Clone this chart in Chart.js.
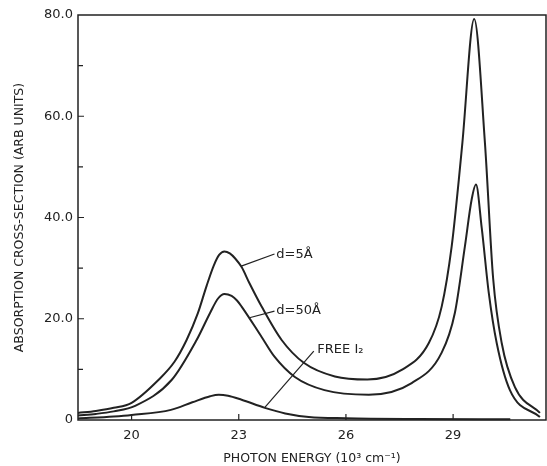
<!DOCTYPE html>
<html>
<head>
<meta charset="utf-8">
<script src="https://cdn.jsdelivr.net/npm/chart.js@4.4.1/dist/chart.umd.min.js"></script>
<style>
  html, body { margin: 0; padding: 0; background: #fff; }
  #wrap { width: 547px; height: 466px; }
</style>
</head>
<body>
<div id="wrap"><canvas id="c"></canvas></div>
<script>
// Values
const xTicks = [20, 23, 26, 29];
const yTicks = [0, 10, 20, 30, 40, 50, 60, 70, 80];

const d5X = [18.5, 19.0, 19.5, 20.0, 20.75, 21.2, 21.54, 21.85, 22.1, 22.3, 22.45, 22.6, 22.75, 22.9, 23.08, 23.3, 23.64, 24.2, 24.82, 25.69, 26.6, 27.56, 28.32, 28.68, 28.96, 29.16, 29.26, 29.59, 29.89, 30.12, 30.36, 30.73, 31.43];
const d5Y = [1.4, 1.8, 2.4, 3.4, 7.9, 11.5, 15.8, 21.0, 26.5, 30.5, 32.6, 33.3, 32.9, 31.9, 30.2, 27.0, 22.4, 15.8, 11.3, 8.6, 8.0, 9.9, 15.2, 22.4, 34.3, 47.5, 54.8, 79.2, 54.8, 28.0, 15.2, 6.5, 1.4];

const d50X = [18.5, 19.0, 19.5, 20.1, 21.12, 21.82, 22.2, 22.42, 22.6, 22.8, 22.95, 23.08, 23.64, 24.0, 24.57, 25.4, 26.64, 27.84, 28.68, 29.05, 29.33, 29.52, 29.64, 29.8, 30.0, 30.22, 30.59, 31.43];
const d50Y = [0.9, 1.2, 1.7, 2.8, 7.9, 15.8, 21.2, 24.0, 24.9, 24.5, 23.6, 22.4, 16.4, 12.5, 8.5, 5.9, 5.0, 7.3, 13.3, 21.2, 34.3, 43.6, 46.5, 38.0, 25.0, 15.2, 5.9, 0.6];

const freeX = [18.5, 19.5, 20.0, 21.1, 21.7, 22.2, 22.44, 22.7, 23.08, 23.73, 24.3, 24.96, 26.0, 28.0, 30.6];
const freeY = [0.3, 0.7, 1.0, 2.0, 3.5, 4.7, 5.0, 4.8, 4.0, 2.4, 1.3, 0.6, 0.35, 0.2, 0.15];

// Curve labels: [text, textX, textY, lineFromX, lineFromY, lineToX, lineToY]
const labels = [
  ['d=5Å',    24.05, 32.7, 23.07, 30.4, 24.0, 32.8],
  ['d=50Å',   24.05, 21.6, 23.3, 20.2, 24.0, 21.5],
  ['FREE I₂', 25.2, 13.9, 25.1, 13.6, 23.73, 2.5]
];

const ink = '#222';
const font = '"DejaVu Sans", sans-serif';

const pts = (xs, ys) => xs.map((x, i) => ({ x: x, y: ys[i] }));

function curve(label, data) {
  return {
    label: label,
    data: data,
    showLine: true,
    borderColor: ink,
    borderWidth: 2,
    pointRadius: 0,
    cubicInterpolationMode: 'monotone',
    clip: false
  };
}

const framePlugin = {
  id: 'frame',
  afterDraw(chart) {
    const ctx = chart.ctx;
    const a = chart.chartArea;
    const xs = chart.scales.x;
    const ys = chart.scales.y;
    ctx.save();
    ctx.strokeStyle = ink;
    ctx.lineWidth = 1.5;
    ctx.strokeRect(a.left, a.top, a.right - a.left, a.bottom - a.top);

    // inward ticks
    ctx.lineWidth = 1.2;
    ctx.beginPath();
    yTicks.forEach(v => {
      if (v === 0 || v === 80) return;
      const p = ys.getPixelForValue(v);
      const len = v % 20 === 0 ? 6 : 5;
      ctx.moveTo(a.left, p);
      ctx.lineTo(a.left + len, p);
    });
    xTicks.forEach(v => {
      const p = xs.getPixelForValue(v);
      ctx.moveTo(p, a.bottom);
      ctx.lineTo(p, a.bottom - 6);
    });
    ctx.stroke();

    // curve labels with leader lines
    ctx.fillStyle = ink;
    ctx.font = '13px ' + font;
    ctx.textBaseline = 'middle';
    ctx.lineWidth = 1.2;
    labels.forEach(l => {
      ctx.beginPath();
      ctx.moveTo(xs.getPixelForValue(l[3]), ys.getPixelForValue(l[4]));
      ctx.lineTo(xs.getPixelForValue(l[5]), ys.getPixelForValue(l[6]));
      ctx.stroke();
      ctx.fillText(l[0], xs.getPixelForValue(l[1]), ys.getPixelForValue(l[2]));
    });
    ctx.restore();
  }
};

new Chart(document.getElementById('c'), {
  type: 'scatter',
  data: {
    datasets: [
      curve('d=5Å', pts(d5X, d5Y)),
      curve('d=50Å', pts(d50X, d50Y)),
      curve('FREE I₂', pts(freeX, freeY))
    ]
  },
  options: {
    responsive: true,
    maintainAspectRatio: false,
    animation: false,
    layout: { padding: { top: 15, right: 1, left: 0, bottom: 0 } },
    plugins: { legend: { display: false }, tooltip: { enabled: false } },
    scales: {
      x: {
        type: 'linear',
        min: 18.5,
        max: 31.6,
        afterBuildTicks: s => { s.ticks = xTicks.map(v => ({ value: v })); },
        afterFit: s => { s.height = 46; },
        grid: { display: false, drawTicks: false },
        border: { display: false },
        ticks: { color: ink, font: { family: font, size: 13 }, padding: 8, maxRotation: 0 },
        title: {
          display: true,
          text: 'PHOTON ENERGY (10³ cm⁻¹)',
          color: ink,
          font: { family: font, size: 12.5 },
          padding: { top: 1, bottom: 0 }
        }
      },
      y: {
        type: 'linear',
        min: 0,
        max: 80,
        afterBuildTicks: s => { s.ticks = yTicks.map(v => ({ value: v })); },
        afterFit: s => { s.width = 78; },
        grid: { display: false, drawTicks: false },
        border: { display: false },
        ticks: {
          color: ink,
          font: { family: font, size: 13 },
          padding: 5,
          callback: v => v === 0 ? '0' : (v % 20 === 0 ? v.toFixed(1) : '')
        },
        title: {
          display: true,
          text: 'ABSORPTION CROSS-SECTION (ARB UNITS)',
          color: ink,
          font: { family: font, size: 12.5 },
          padding: { top: 12, bottom: 4 }
        }
      }
    }
  },
  plugins: [framePlugin]
});
</script>
</body>
</html>
